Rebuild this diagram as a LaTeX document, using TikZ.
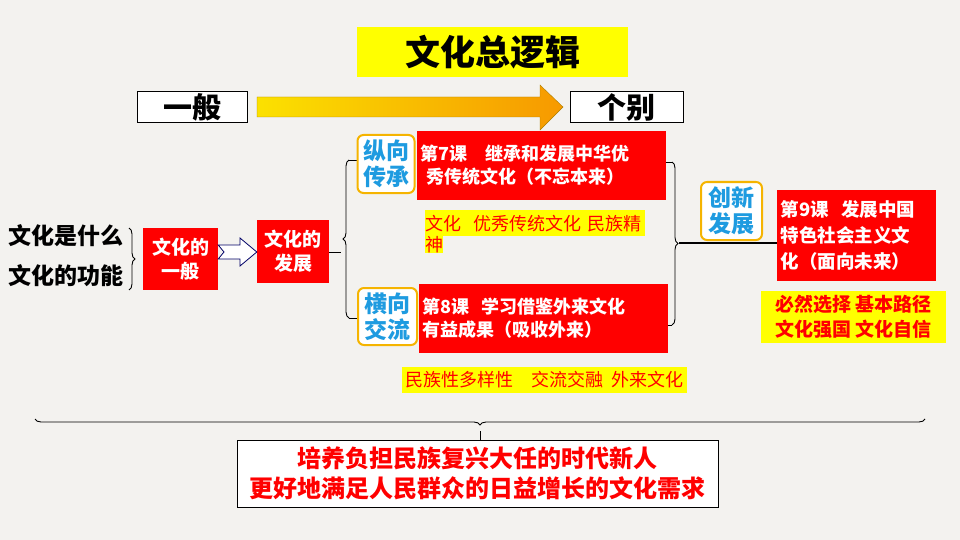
\documentclass[tikz,border=0pt]{standalone}
\usepackage{fontspec}
\setmainfont{Noto Sans CJK SC}
\usetikzlibrary{shapes.arrows,decorations.pathreplacing}
\definecolor{bg}{HTML}{F3F2EF}
\definecolor{rd}{HTML}{FF0000}
\definecolor{yl}{HTML}{FFFF00}
\definecolor{bl}{HTML}{1E9BE0}
\definecolor{og}{HTML}{F5B400}
\tikzset{
  redbox/.style={fill=rd,text=white,font=\bfseries\fontsize{18}{23}\selectfont,align=left,inner sep=0pt},
  ybox/.style={fill=yl,text=rd,inner sep=0pt,align=left},
  rbox/.style={draw=og,line width=2pt,rounded corners=6pt,fill=white,text=bl,font=\bfseries\fontsize{23}{26}\selectfont,align=center,inner sep=0pt},
  wbox/.style={draw=black,line width=1pt,fill=white,font=\bfseries\fontsize{29}{32}\selectfont,inner sep=0pt},
  br/.style={decorate,decoration={brace,amplitude=6pt},line width=0.9pt}
}
\begin{document}
\begin{tikzpicture}[x=1pt,y=-1pt]
\fill[bg] (0,0) rectangle (960,540);
\useasboundingbox (0,0) rectangle (960,540);
\node[fill=yl,minimum width=271pt,minimum height=50pt,font=\bfseries\fontsize{35}{38}\selectfont,inner sep=0pt] (t) at (492.5,52) {文化总逻辑};
\node[wbox,minimum width=110pt,minimum height=31pt] (yb) at (192,107.5) {一般};
\node[wbox,minimum width=113pt,minimum height=31pt] (gb) at (626.5,107.5) {个别};
\shade[left color=yellow!60!og,right color=og!85!red,draw=og!70!black] (257,97) -- (540,97) -- (540,85) -- (563,107) -- (540,130) -- (540,117) -- (257,117) -- cycle;
\node[font=\bfseries\fontsize{23}{26}\selectfont] (w1) at (66,236) {文化是什么};
\node[font=\bfseries\fontsize{23}{26}\selectfont] (w2) at (66,276) {文化的功能};
\draw[br] (129,228) -- (129,290);
\node[redbox,align=center,minimum width=75pt,minimum height=62pt,font=\bfseries\fontsize{19}{24}\selectfont] (g) at (180.5,259) {文化的\\一般};
\node[redbox,align=center,minimum width=72pt,minimum height=63pt,font=\bfseries\fontsize{19}{24}\selectfont] (f) at (293,251.5) {文化的\\发展};
\draw[draw=black!60!blue,fill=white,line width=0.8pt] (g.east |- 0,245) -- (240,245) -- (240,238) -- (f.west |- 0,252) -- (240,266) -- (240,259) -- (g.east |- 0,259) -- (224,252) -- cycle;
\draw[br] (349,318) -- (349,160) ;
\draw[line width=0.9pt] (f.east |- 0,252) -- (341,252);
\draw[line width=0.9pt] (349,160) -- (357,160) (349,318) -- (358,318);
\node[rbox,minimum width=57pt,minimum height=58pt] (z) at (386,164) {纵向\\传承};
\node[redbox,minimum width=249pt,minimum height=69pt,text width=242pt] (k7) at (541.5,165.5) {第7课\quad 继承和发展中华优\\\ 秀传统文化（不忘本来）};
\node[ybox,anchor=north west,minimum width=220pt,minimum height=26pt,font=\fontsize{18}{19}\selectfont,text width=220pt] (y1) at (425,210) {文化\ \ 优秀传统文化 民族精};
\node[ybox,anchor=north west,font=\fontsize{18}{19}\selectfont,minimum height=17pt] (y1b) at (425,236) {神};
\node[rbox,minimum width=59pt,minimum height=57pt] (h) at (387.5,316.5) {横向\\交流};
\node[redbox,minimum width=249pt,minimum height=69pt,text width=242pt] (k8) at (543.5,318.5) {第8课\ \ 学习借鉴外来文化\\有益成果（吸收外来）};
\node[ybox,minimum width=285pt,minimum height=26pt,font=\fontsize{18}{19}\selectfont,align=center] (y2) at (544.5,380) {民族性多样性\quad 交流交融\ \ 外来文化};
\draw[br] (672,162) -- (672,325);
\draw[line width=0.9pt] (666,162) -- (672,162) (668,325) -- (672,325);
\node[rbox,minimum width=61pt,minimum height=58pt] (c) at (731.5,211) {创新\\发展};
\node[redbox,minimum width=159pt,minimum height=91pt,text width=152pt,font=\bfseries\fontsize{18.5}{26}\selectfont] (k9) at (856.5,235.5) {第9课\ \ 发展中国\\特色社会主义文\\化（面向未来）};
\draw[line width=1.5pt] (679,243) -- (k9.west |- 0,243);
\node[ybox,minimum width=185pt,minimum height=52pt,font=\bfseries\fontsize{19}{25}\selectfont,align=center] (y3) at (853.5,317) {必然选择 基本路径\\文化强国 文化自信};
\draw[br] (925,419) -- (35,419);
\node[draw=black,line width=1pt,fill=white,minimum width=481pt,minimum height=67pt,text=rd,font=\bfseries\fontsize{24}{30}\selectfont,align=center,inner sep=0pt] (b) at (477.5,473.5) {培养负担民族复兴大任的时代新人\\更好地满足人民群众的日益增长的文化需求};
\draw[line width=0.9pt] (480,431) -- (b.north -| 480,0);
\end{tikzpicture}
\end{document}
